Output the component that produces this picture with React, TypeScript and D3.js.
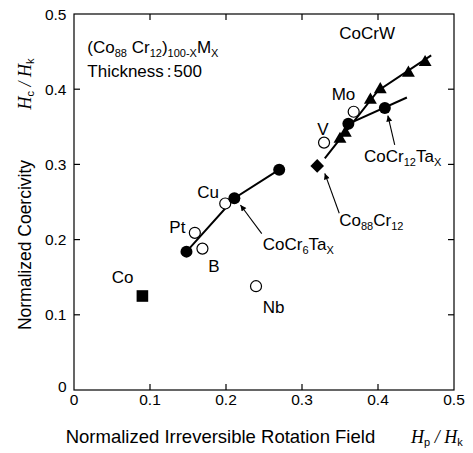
import React from "react";
import * as d3 from "d3";

const W = 473, H = 453;
const xTicks = [0, 0.1, 0.2, 0.3, 0.4, 0.5];
const yTicks = [0, 0.1, 0.2, 0.3, 0.4, 0.5];
const xTickLabels = ["0", "0.1", "0.2", "0.3", "0.4", "0.5"];
const yTickLabels = ["0", "0.1", "0.2", "0.3", "0.4", "0.5"];

// Co (filled square)
const coPoints: [number, number][] = [[0.09, 0.125]];
// CoCr6Tax (filled circles, joined)
const cocr6ta: [number, number][] = [[0.148, 0.184], [0.211, 0.255], [0.27, 0.293]];
// (Co88Cr12)100-xMx open circles
const openNames = ["Pt", "B", "Cu", "Nb", "V", "Mo"];
const openX = [0.159, 0.169, 0.199, 0.2395, 0.329, 0.368];
const openY = [0.209, 0.188, 0.248, 0.138, 0.329, 0.37];
// Co88Cr12 (filled diamond)
const co88cr12: [number, number][] = [[0.32, 0.298]];
// CoCr12Tax (filled circles)
const cocr12ta: [number, number][] = [[0.361, 0.354], [0.409, 0.375]];
const cocr12taLine: [number, number][] = [[0.361, 0.354], [0.438, 0.389]];
// CoCrW (filled triangles)
const cocrw: [number, number][] = [[0.35, 0.335], [0.357, 0.343], [0.39, 0.387], [0.403, 0.401], [0.44, 0.423], [0.462, 0.437]];
const cocrwLine: [number, number][] = [[0.33, 0.308], [0.4, 0.398], [0.47, 0.445]];

// open-circle label anchors (data units)
const openLabelX = [0.1254, 0.1767, 0.1622, 0.2483, 0.3201, 0.339];
const openLabelY = [0.2092, 0.1573, 0.2549, 0.102, 0.339, 0.3856];

// arrows: [tailX, tailY, tipX, tipY]
const arrows: [number, number, number, number][] = [
  [0.247, 0.208, 0.219, 0.246],
  [0.422, 0.326, 0.413, 0.365],
  [0.349, 0.235, 0.330, 0.288],
];

const FONT = "'Liberation Sans', Arial, Helvetica, sans-serif";
const SERIF = "'Liberation Serif', 'Times New Roman', serif";

type Seg = { t: string; s?: boolean };
function Rich({ segs, x, y, fs }: { segs: Seg[]; x: number; y: number; fs: number }) {
  let prev = false;
  return (
    <text x={x} y={y} fontSize={fs}>
      {segs.map((g, i) => {
        const dy = g.s && !prev ? 4 : !g.s && prev ? -4 : 0;
        prev = !!g.s;
        return (
          <tspan key={i} dy={dy} fontSize={g.s ? 11 : fs}>{g.t}</tspan>
        );
      })}
    </text>
  );
}

export default function App() {
  const x = d3.scaleLinear().domain([0, 0.5]).range([74, 454]);
  const y = d3.scaleLinear().domain([0, 0.5]).range([390, 14]);
  const line = d3.line<[number, number]>().x(d => x(d[0])).y(d => y(d[1]));
  const tri = d3.symbol().type(d3.symbolTriangle).size(72)();
  const tl = 6;
  const labelFs = 17;
  const dd = 6.8;
  return (
    <svg width={W} height={H} style={{ position: "absolute", left: 0, top: 0, background: "#fff" }} fontFamily={FONT}>
      <defs>
        <marker id="ah" viewBox="0 0 10 10" refX="10" refY="5" markerWidth="8" markerHeight="6" orient="auto" markerUnits="userSpaceOnUse">
          <path d="M0,0 L10,5 L0,10 z" fill="#000" />
        </marker>
      </defs>
      {/* frame */}
      <rect x={x(0)} y={y(0.5)} width={x(0.5) - x(0)} height={y(0) - y(0.5)} fill="none" stroke="#000" strokeWidth={1.2} />
      {xTicks.slice(1, -1).map(t => (
        <g key={"xt" + t}>
          <line x1={x(t)} x2={x(t)} y1={y(0)} y2={y(0) - tl} stroke="#000" strokeWidth={1.2} />
          <line x1={x(t)} x2={x(t)} y1={y(0.5)} y2={y(0.5) + tl} stroke="#000" strokeWidth={1.2} />
        </g>
      ))}
      {yTicks.slice(1, -1).map(t => (
        <g key={"yt" + t}>
          <line x1={x(0)} x2={x(0) + tl} y1={y(t)} y2={y(t)} stroke="#000" strokeWidth={1.2} />
          <line x1={x(0.5)} x2={x(0.5) - tl} y1={y(t)} y2={y(t)} stroke="#000" strokeWidth={1.2} />
        </g>
      ))}
      {xTicks.map((t, i) => (
        <text key={"xl" + t} x={x(t)} y={405} fontSize={15.5} textAnchor="middle">{xTickLabels[i]}</text>
      ))}
      {yTicks.map((t, i) => (
        <text key={"yl" + t} x={66.5} y={i === 0 ? y(t) + 1.5 : y(t) + 5.5} fontSize={15.5} textAnchor="end">{yTickLabels[i]}</text>
      ))}
      {/* axis titles */}
      <text x={65.7} y={443} fontSize={18.5}>Normalized Irreversible Rotation Field</text>
      <text x={411} y={443} fontSize={18} fontFamily={SERIF} fontStyle="italic">
        H<tspan dy={3} fontSize={11} fontStyle="normal" fontFamily={FONT}>p</tspan>
        <tspan dy={-3}> / H</tspan>
        <tspan dy={3} fontSize={11} fontStyle="normal" fontFamily={FONT}>k</tspan>
      </text>
      <text transform={`translate(31,245) rotate(-90)`} fontSize={17.5} textAnchor="middle">Normalized Coercivity</text>
      <text transform={`translate(31,84) rotate(-90)`} fontSize={18} textAnchor="middle" fontFamily={SERIF} fontStyle="italic">
        H<tspan dy={3} fontSize={11} fontStyle="normal" fontFamily={FONT}>c</tspan>
        <tspan dy={-3}> / H</tspan>
        <tspan dy={3} fontSize={11} fontStyle="normal" fontFamily={FONT}>k</tspan>
      </text>

      {/* lines */}
      <path d={line(cocr6ta) || ""} fill="none" stroke="#000" strokeWidth={2} />
      <path d={line(cocr12taLine) || ""} fill="none" stroke="#000" strokeWidth={2} />
      <path d={line(cocrwLine) || ""} fill="none" stroke="#000" strokeWidth={2} />

      {/* open circles */}
      {openX.map((v, i) => (
        <circle key={"o" + i} cx={x(v)} cy={y(openY[i])} r={5.5} fill="#fff" stroke="#000" strokeWidth={1.2} />
      ))}
      {/* markers */}
      {coPoints.map((d, i) => (
        <rect key={"sq" + i} x={x(d[0]) - 5.8} y={y(d[1]) - 5.8} width={11.6} height={11.6} fill="#000" />
      ))}
      {cocr6ta.map((d, i) => <circle key={"c6" + i} cx={x(d[0])} cy={y(d[1])} r={6} fill="#000" />)}
      {cocr12ta.map((d, i) => <circle key={"c12" + i} cx={x(d[0])} cy={y(d[1])} r={6} fill="#000" />)}
      {co88cr12.map((d, i) => (
        <path key={"dm" + i} d={`M0,${-dd}L${dd},0L0,${dd}L${-dd},0Z`} transform={`translate(${x(d[0])},${y(d[1])})`} fill="#000" />
      ))}
      {cocrw.map((d, i) => <path key={"tr" + i} d={tri || ""} transform={`translate(${x(d[0])},${y(d[1]) + 1})`} fill="#000" />)}

      {/* arrows */}
      {arrows.map((a, i) => (
        <line key={"ar" + i} x1={x(a[0])} y1={y(a[1])} x2={x(a[2])} y2={y(a[3])} stroke="#000" strokeWidth={1.1} markerEnd="url(#ah)" />
      ))}

      {/* labels */}
      <text x={x(0.0496)} y={y(0.1427)} fontSize={labelFs}>Co</text>
      {openNames.map((n, i) => (
        <text key={"on" + i} x={x(openLabelX[i])} y={y(openLabelY[i])} fontSize={labelFs}>{n}</text>
      ))}
      <text x={x(0.349)} y={y(0.4664)} fontSize={labelFs}>CoCrW</text>
      <Rich x={x(0.2483)} y={y(0.1862)} fs={labelFs} segs={[{ t: "CoCr" }, { t: "6", s: true }, { t: "Ta" }, { t: "X", s: true }]} />
      <Rich x={x(0.3816)} y={y(0.3032)} fs={labelFs} segs={[{ t: "CoCr" }, { t: "12", s: true }, { t: "Ta" }, { t: "X", s: true }]} />
      <Rich x={x(0.349)} y={y(0.218)} fs={labelFs} segs={[{ t: "Co" }, { t: "88", s: true }, { t: "Cr" }, { t: "12", s: true }]} />
      <Rich x={x(0.0175)} y={y(0.4477)} fs={labelFs} segs={[{ t: "(Co" }, { t: "88", s: true }, { t: " Cr" }, { t: "12", s: true }, { t: ")" }, { t: "100-X", s: true }, { t: "M" }, { t: "X", s: true }]} />
      <text x={x(0.0175)} y={y(0.4158)} fontSize={labelFs}>Thickness<tspan dx={3}>:</tspan><tspan dx={2}>500</tspan></text>
    </svg>
  );
}
